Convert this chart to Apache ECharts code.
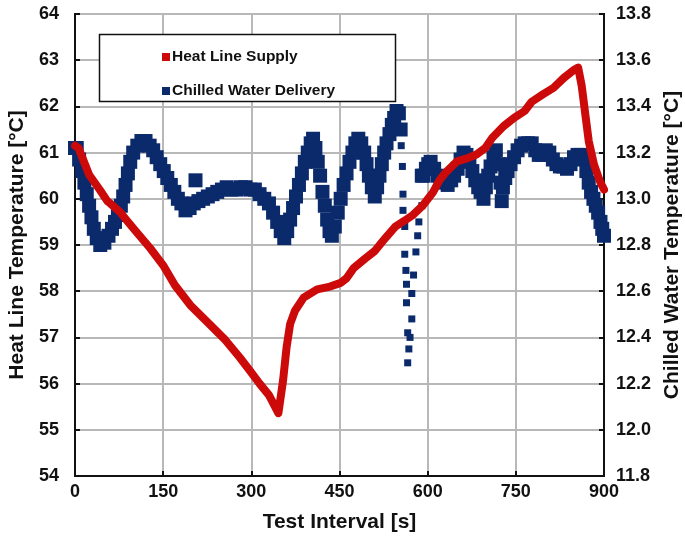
<!DOCTYPE html>
<html>
<head>
<meta charset="utf-8">
<script src="https://cdn.jsdelivr.net/npm/echarts@6/dist/echarts.min.js"></script>
<style>
html,body{margin:0;padding:0;background:#fff;}
#chart{width:685px;height:539px;}
</style>
</head>
<body>
<div id="chart"></div>
<script>
var xTicks = [0, 150, 300, 450, 600, 750, 900];

var heatTime = [0, 6, 24, 43, 55, 60, 77, 85, 102, 128, 150, 170, 196, 230, 256, 280, 297, 314, 330, 346,
  354, 360, 366, 374, 389, 412, 434, 452, 462, 474, 493, 510, 528, 545, 560, 575, 592, 609, 620, 632,
  650, 668, 683, 698, 710, 729, 747, 765, 777, 796, 814, 832, 850, 856, 862, 869, 874, 883, 893, 900];
var heatTemp = [61.15, 61.1, 60.52, 60.18, 59.95, 59.9, 59.71, 59.58, 59.32, 58.93, 58.56, 58.13, 57.7, 57.27, 56.94, 56.57, 56.29, 56.0, 55.75, 55.36,
  56.07, 56.79, 57.29, 57.57, 57.86, 58.04, 58.1, 58.18, 58.28, 58.5, 58.7, 58.87, 59.15, 59.4, 59.52, 59.65, 59.86, 60.14, 60.4, 60.59,
  60.81, 60.88, 60.96, 61.1, 61.32, 61.57, 61.75, 61.9, 62.1, 62.26, 62.4, 62.62, 62.8, 62.84, 62.45, 61.75, 61.25, 60.74, 60.38, 60.2];

var chilledTime = [0, 3, 7, 12, 16, 20, 24, 28, 32, 37, 43, 50, 57, 63, 68, 73, 78, 82, 86, 90,
  94, 99, 106, 113, 120, 127, 133, 139, 145, 151, 157, 163, 169, 175, 181, 188, 195, 202, 205, 210,
  218, 226, 234, 242, 250, 258, 266, 274, 282, 290, 298, 306, 314, 322, 330, 337, 344, 350, 356, 361,
  366, 371, 376, 381, 386, 391, 396, 401, 405, 409, 413, 417, 421, 425, 429, 433, 437, 442, 447, 452,
  457, 462, 467, 472, 477, 482, 487, 492, 496, 500, 505, 510, 514, 518, 522, 526, 530, 535, 539, 543,
  547, 551, 554, 590, 593, 597, 601, 605, 611, 617, 622, 628, 634, 640, 645, 651, 656, 661, 666, 671,
  676, 681, 686, 690, 695, 699, 703, 707, 712, 716, 720, 724, 726, 728, 732, 736, 741, 747, 753, 759,
  765, 771, 777, 783, 789, 795, 801, 807, 813, 819, 825, 831, 837, 843, 849, 855, 861, 866, 870, 874,
  878, 882, 886, 890, 894, 897, 900];
var chilledTemp = [13.22, 13.22, 13.17, 13.12, 13.07, 13.02, 12.97, 12.92, 12.87, 12.83, 12.8, 12.81, 12.84, 12.87, 12.9, 12.93, 12.97, 13.01, 13.06, 13.11,
  13.16, 13.2, 13.23, 13.25, 13.25, 13.23, 13.21, 13.18, 13.15, 13.12, 13.09, 13.06, 13.03, 13.0, 12.98, 12.95, 12.96, 12.98, 13.08, 12.99,
  13.0, 13.01, 13.02, 13.03, 13.04, 13.05, 13.04, 13.04, 13.05, 13.05, 13.04, 13.04, 13.02, 13.0, 12.98, 12.94, 12.9, 12.86, 12.83, 12.86,
  12.91, 12.96, 13.01, 13.06, 13.11, 13.16, 13.2, 13.24, 13.26, 13.22, 13.16, 13.1, 13.03, 12.97, 12.91, 12.86, 12.84, 12.88, 12.94, 13.0,
  13.06, 13.11, 13.16, 13.2, 13.24, 13.26, 13.24, 13.2, 13.15, 13.1, 13.05, 13.01, 13.05, 13.1, 13.15, 13.2, 13.24, 13.28, 13.32, 13.35,
  13.38, 13.37, 13.3, 13.1, 13.1, 13.13, 13.15, 13.16, 13.13, 13.1, 13.09, 13.07, 13.06, 13.08, 13.1, 13.13, 13.17, 13.2, 13.19, 13.16,
  13.12, 13.08, 13.05, 13.03, 13.0, 13.05, 13.1, 13.14, 13.18, 13.21, 13.15, 13.07, 12.99, 13.05, 13.09, 13.12, 13.15, 13.18, 13.21, 13.23,
  13.24, 13.24, 13.24, 13.21, 13.19, 13.19, 13.21, 13.2, 13.17, 13.15, 13.14, 13.14, 13.13, 13.15, 13.18, 13.19, 13.19, 13.17, 13.12, 13.07,
  13.03, 13.0, 12.97, 12.94, 12.9, 12.87, 12.84];

var dipTime = [555, 557, 558, 558, 561, 561, 563, 564, 564, 566, 568, 566, 570, 573, 573, 576, 580, 583, 585, 590];
var dipTemp = [13.23, 13.14, 13.02, 12.95, 12.88, 12.76, 12.69, 12.63, 12.55, 12.42, 12.35, 12.29, 12.4, 12.48, 12.59, 12.67, 12.77, 12.84, 12.9, 12.97];

function zip(a, b) { return a.map(function (v, i) { return [v, b[i]]; }); }

var FONT = 'Liberation Sans';
var RED = '#cc0a0a';
var BLUE = '#0b2a6b';

var chart = echarts.init(document.getElementById('chart'), null, { renderer: 'canvas' });
chart.setOption({
  animation: false,
  backgroundColor: '#ffffff',
  grid: { left: 75, right: 81, top: 14, bottom: 63, containLabel: false, outerBoundsMode: 'none',
    show: true, borderColor: '#111', borderWidth: 2, backgroundColor: 'transparent' },
  graphic: [{
    type: 'rect', z: 50,
    shape: { x: 99.5, y: 34.5, width: 296, height: 67 },
    style: { fill: '#fff', stroke: '#111', lineWidth: 1.5 }
  }],
  legend: {
    z: 60,
    orient: 'vertical', left: 157, top: 44, itemGap: 18,
    itemWidth: 8, itemHeight: 8,
    textStyle: { fontFamily: FONT, fontWeight: 'bold', fontSize: 15.5, color: '#111', padding: [0, 0, 0, -3] },
    data: [
      { name: 'Heat Line Supply', icon: 'rect' },
      { name: 'Chilled Water Delivery', icon: 'rect' }
    ]
  },
  xAxis: {
    type: 'value', min: 0, max: 900, interval: 150,
    name: 'Test Interval [s]', nameLocation: 'middle', nameGap: 36,
    nameTextStyle: { fontFamily: FONT, fontWeight: 'bold', fontSize: 21, color: '#111' },
    axisLine: { show: true, lineStyle: { color: '#111', width: 2 } },
    axisTick: { show: true, inside: true, length: 5, lineStyle: { color: '#111', width: 2 } },
    axisLabel: { margin: 7, fontFamily: FONT, fontWeight: 'bold', fontSize: 18, color: '#111' },
    splitLine: { show: true, lineStyle: { color: '#b8b8b8', width: 2 } }
  },
  yAxis: [{
    type: 'value', min: 54, max: 64, interval: 1, position: 'left',
    name: 'Heat Line Temperature [°C]', nameLocation: 'middle', nameGap: 32, nameRotate: 90,
    nameTextStyle: { fontFamily: FONT, fontWeight: 'bold', fontSize: 21, color: '#111' },
    axisLine: { show: true, lineStyle: { color: '#111', width: 2 } },
    axisTick: { show: true, inside: true, length: 5, lineStyle: { color: '#111', width: 2 } },
    axisLabel: { margin: 16, fontFamily: FONT, fontWeight: 'bold', fontSize: 18, color: '#111' },
    splitLine: { show: true, lineStyle: { color: '#b8b8b8', width: 2 } }
  }, {
    type: 'value', min: 11.8, max: 13.8, interval: 0.2, position: 'right',
    name: 'Chilled Water Temperature [°C]', nameLocation: 'middle', nameGap: 58, nameRotate: 90,
    nameTextStyle: { fontFamily: FONT, fontWeight: 'bold', fontSize: 21, color: '#111' },
    axisLine: { show: true, lineStyle: { color: '#111', width: 2 } },
    axisTick: { show: true, inside: true, length: 5, lineStyle: { color: '#111', width: 2 } },
    axisLabel: { margin: 12, fontFamily: FONT, fontWeight: 'bold', fontSize: 18, color: '#111',
      formatter: function (v) { return v.toFixed(1); } },
    splitLine: { show: false }
  }],
  series: [{
    name: 'Chilled Water Delivery', type: 'scatter', yAxisIndex: 1, z: 2,
    symbol: 'rect', symbolSize: 14,
    itemStyle: { color: BLUE, opacity: 1 },
    data: zip(chilledTime, chilledTemp)
  }, {
    name: 'Chilled Water Delivery', type: 'scatter', yAxisIndex: 1, z: 2,
    symbol: 'rect', symbolSize: 7,
    itemStyle: { color: BLUE, opacity: 1 },
    data: zip(dipTime, dipTemp)
  }, {
    name: 'Heat Line Supply', type: 'line', yAxisIndex: 0, z: 3,
    showSymbol: false, smooth: false,
    lineStyle: { color: RED, width: 8, join: 'round', cap: 'round' },
    itemStyle: { color: RED },
    data: zip(heatTime, heatTemp)
  }]
});
</script>
</body>
</html>
